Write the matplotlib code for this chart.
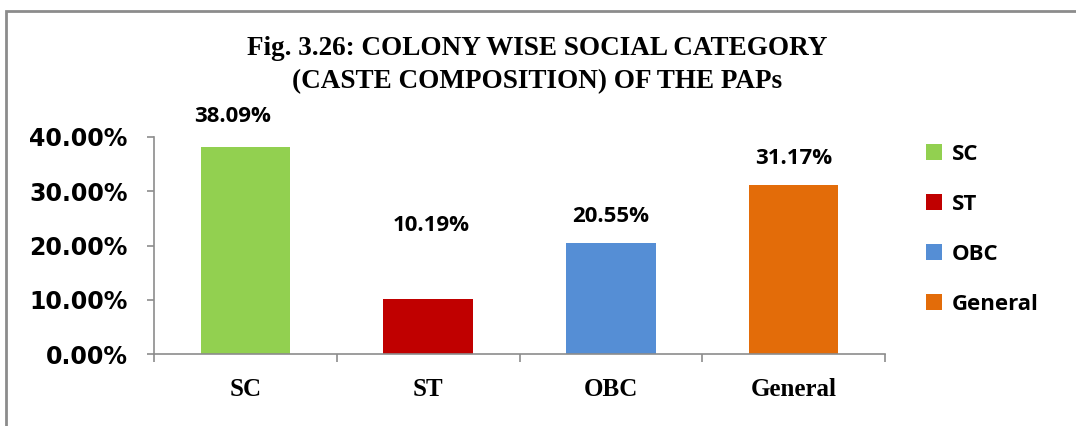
import matplotlib.pyplot as plt
from matplotlib.patches import Patch, Rectangle
from matplotlib.ticker import PercentFormatter, FixedLocator

# data
categories = ['SC', 'ST', 'OBC', 'General']
shares = [38.09, 10.19, 20.55, 31.17]
bar_colors = ['#92D050', '#C00000', '#558ED5', '#E36C09']
title = 'Fig. 3.26: COLONY WISE SOCIAL CATEGORY\n(CASTE COMPOSITION) OF THE PAPs'

fig = plt.figure(figsize=(10.76, 4.26), dpi=100)

# outer chart frame (runs off the right and bottom edges)
fig.patches.append(Rectangle((6/1076, -0.1), 1.2, 1 - 11/426 + 0.1, transform=fig.transFigure,
                             fill=False, edgecolor='#8c8c8c', linewidth=2))

ax = fig.add_axes([154/1076, 1 - 354/426, 731/1076, 217/426])
x = range(len(categories))
ax.bar(x, shares, width=0.49, color=bar_colors)

ax.set_xlim(-0.5, 3.5)
ax.set_ylim(0, 40)
ax.set_yticks([0, 10, 20, 30, 40])
ax.yaxis.set_major_formatter(PercentFormatter(decimals=2))
for lab in ax.get_yticklabels():
    lab.set_fontfamily('DejaVu Sans')
    lab.set_fontweight('bold')
    lab.set_fontsize(17)

ax.set_xticks(list(x))
ax.set_xticklabels(categories, fontfamily='Liberation Serif', fontweight='bold', fontsize=18)
ax.xaxis.set_minor_locator(FixedLocator([-0.5, 0.5, 1.5, 2.5, 3.5]))
ax.tick_params(axis='x', which='major', length=0, pad=17)
ax.tick_params(axis='x', which='minor', length=6, color='#8c8c8c', width=1.2)
ax.tick_params(axis='y', length=5, color='#8c8c8c', width=1.2, pad=14)

for side in ['top', 'right']:
    ax.spines[side].set_visible(False)
for side in ['left', 'bottom']:
    ax.spines[side].set_color('#8c8c8c')
    ax.spines[side].set_linewidth(1.2)

# value labels (ST label sits higher, as in the original)
offsets = [(-9, 22), (2, 53), (0, 19), (0, 19)]
for i, v in enumerate(shares):
    ax.annotate(f'{v:.2f}%', (i, v), xytext=offsets[i], textcoords='offset points',
                ha='center', va='center', fontsize=16, fontweight='bold',
                fontfamily='Open Sans', annotation_clip=False)

fig.text(537/1076, 1 - 65/426, title, ha='center', va='center', fontsize=19.5,
         fontweight='bold', fontfamily='Liberation Serif', linespacing=1.4)

handles = [Patch(facecolor=c, edgecolor='none') for c in bar_colors]
fig.legend(handles, categories, loc='upper left', bbox_to_anchor=(906/1076, 1 - 124/426),
           frameon=False, prop={'family': 'Open Sans', 'weight': 'bold', 'size': 16},
           handlelength=0.7, handleheight=0.7, handletextpad=0.45, labelspacing=1.3)

fig.savefig('out.png', dpi=100)
